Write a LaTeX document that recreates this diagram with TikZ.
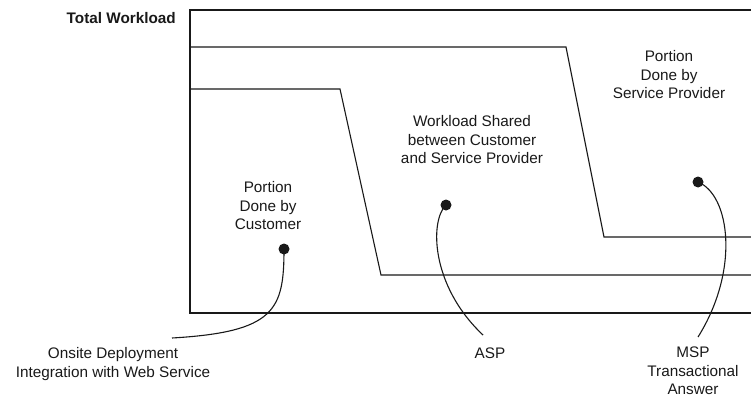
\documentclass[tikz,border=0pt]{standalone}
\usepackage{fontspec}
\setmainfont{Liberation Sans}
\begin{document}
\begin{tikzpicture}[x=1pt,y=-1pt,
  region/.style={line width=1.1pt,draw=black!90},
  lbl/.style={align=center,inner sep=0pt,font=\fontsize{15.3}{18.5}\selectfont,text=black!90},
  dotmark/.style={circle,fill=black!90,inner sep=0pt,minimum size=11pt},
  leader/.style={line width=1.1pt,draw=black!90}]
\useasboundingbox (0,0) rectangle (751,399);
% regions
\draw[region] (751,10) -- (190,10) -- (190,313) -- (751,313);
\draw[region] (190,47) -- (566,47) -- (604,237) -- (751,237);
\draw[region] (190,89) -- (340,89) -- (381,275) -- (751,275);
% labels
\node[lbl,font=\fontsize{15.3}{18.5}\selectfont\bfseries,anchor=base east] (tw) at (176,23.5) {Total Workload};
\node[lbl] (cust) at (268,206) {Portion\\Done by\\Customer};
\node[lbl] (shared) at (472,140) {Workload Shared\\between Customer\\and Service Provider};
\node[lbl] (prov) at (669,75) {Portion\\Done by\\Service Provider};
\node[lbl] (onsite) at (113,364) {Onsite Deployment\\Integration with Web Service};
\node[lbl] (asp) at (490,353) {ASP};
\node[lbl] (msp) at (693,371) {MSP\\Transactional\\Answer};
% dots
\node[dotmark] (d1) at (284,249) {};
\node[dotmark] (d2) at (446,205) {};
\node[dotmark] (d3) at (698,182) {};
% leader ends
\coordinate (e1) at (172,338);
\coordinate (e2) at (483,335);
\coordinate (e3) at (698,337);
\draw[leader] (d1.center) .. controls (284,310) and (275,332) .. (e1);
\draw[leader] (d2.center) .. controls (430,220) and (430,285) .. (e2);
\draw[leader] (d3.center) .. controls (730,195) and (740,270) .. (e3);
\end{tikzpicture}
\end{document}
